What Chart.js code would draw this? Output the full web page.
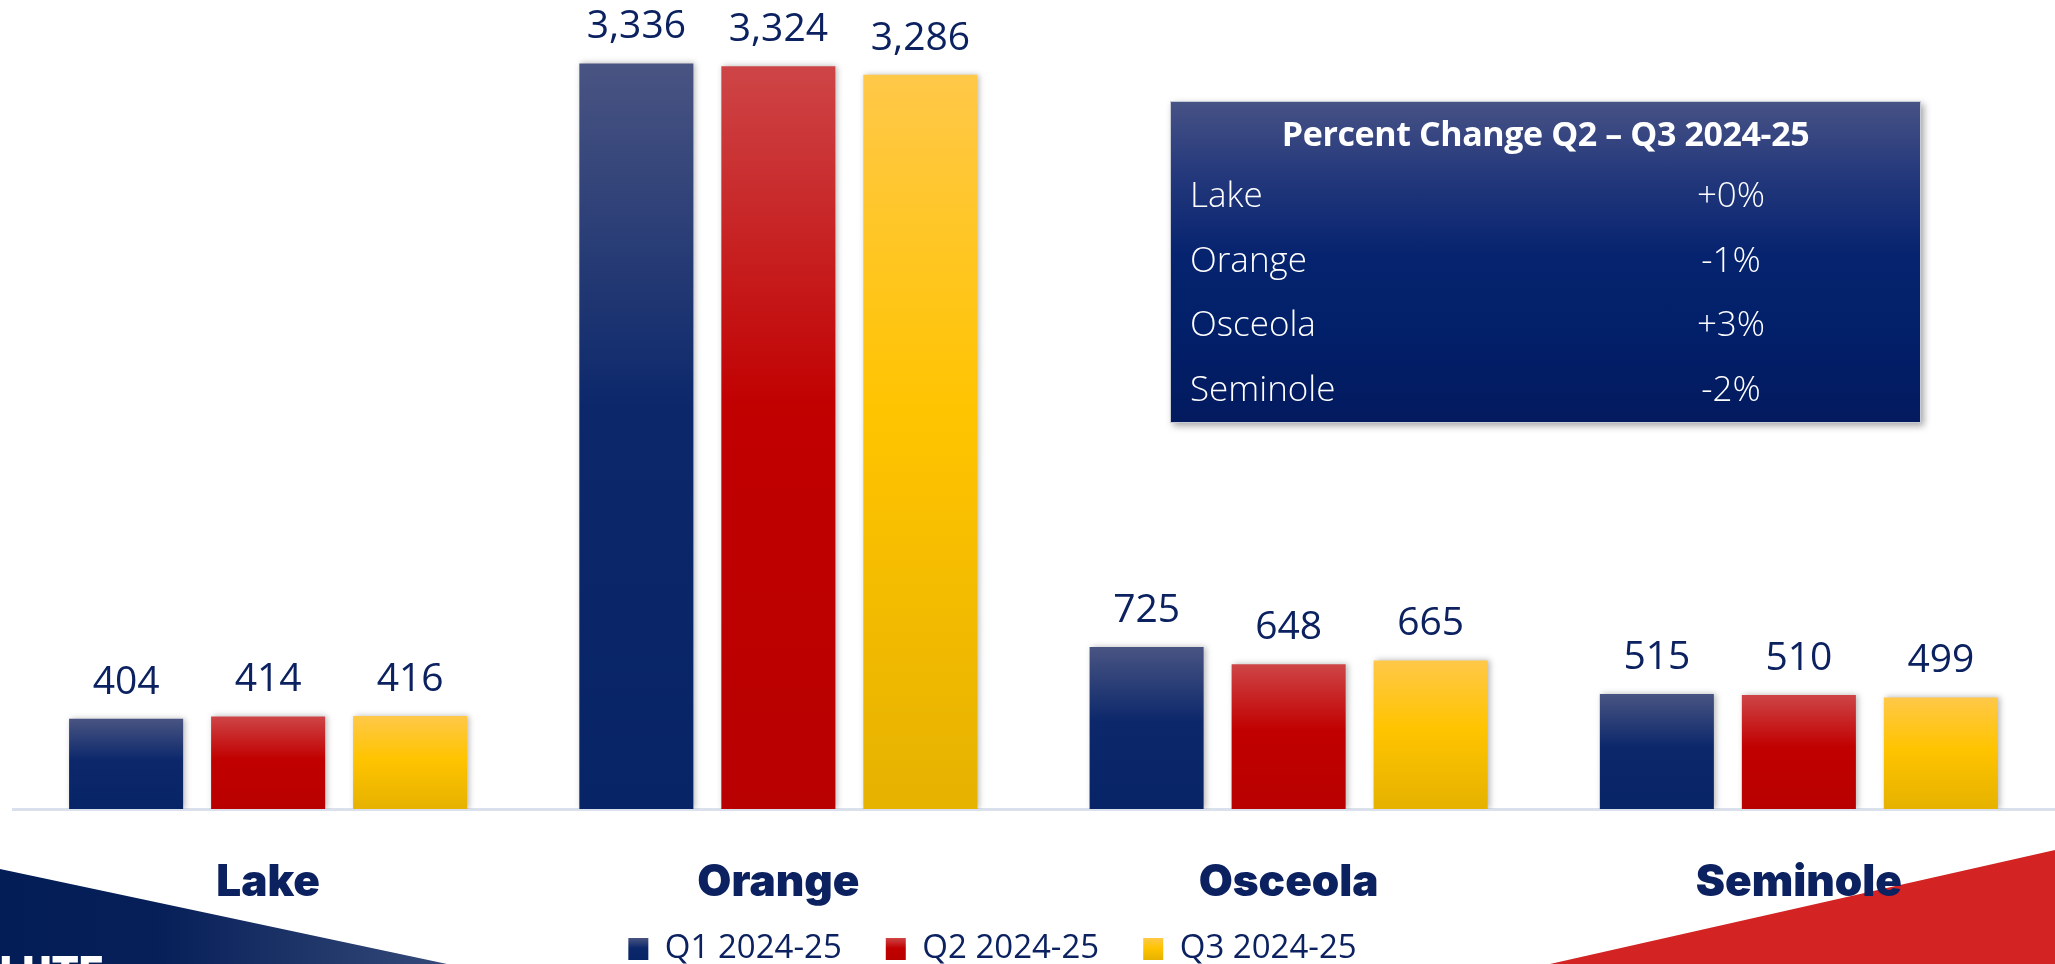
<!DOCTYPE html>
<html>
<head>
<meta charset="utf-8">
<script src="https://cdn.jsdelivr.net/npm/chart.js@4.4.1/dist/chart.umd.min.js"></script>
<style>
  html, body { margin: 0; padding: 0; background: #ffffff; overflow: hidden; }
  #wrap { position: relative; width: 2055px; height: 964px; }
  #chart { position: absolute; left: 0; top: 0; }
  #changeBox {
    position: absolute; left: 1170px; top: 101px; width: 751px; height: 322px;
    box-sizing: border-box;
    background: linear-gradient(180deg, #475285 0%, #25397c 22%, #06236f 48%, #021f69 72%, #031a5e 100%);
    border: 1px solid #c7cbd6;
    box-shadow: 3px 3px 7px rgba(0, 0, 0, 0.35);
    color: #ffffff;
    font-family: 'Open Sans', sans-serif;
  }
  #changeBox .title {
    position: absolute; left: 0; right: 0; top: 9px; line-height: 44px;
    text-align: center; font-weight: 700; font-size: 34px; letter-spacing: -0.4px;
  }
  #changeBox .row { position: absolute; left: 0; right: 0; height: 44px; line-height: 44px; font-size: 35px; font-weight: 300; }
  #changeBox .row .name { position: absolute; left: 19px; }
  #changeBox .row .pct { position: absolute; left: 490px; width: 140px; text-align: center; }
</style>
</head>
<body>
<div id="wrap">
  <canvas id="chart" width="2055" height="964"></canvas>
  <div id="changeBox"><div class="title">Percent Change Q2 – Q3 2024-25</div></div>
</div>
<script>
// Counties on the category axis
const categories = ['Lake', 'Orange', 'Osceola', 'Seminole'];
// Quarterly series
const seriesNames = ['Q1 2024-25', 'Q2 2024-25', 'Q3 2024-25'];
const q1Values = [404, 3336, 725, 515];
const q2Values = [414, 3324, 648, 510];
const q3Values = [416, 3286, 665, 499];
// Percent change Q2 -> Q3 shown in the summary box
const changeLabels = ['+0%', '-1%', '+3%', '-2%'];

// top / middle / bottom colours of each series' vertical gradient
const barStops = [
  ['#495482', '#0c286b', '#072466'],
  ['#ce4547', '#c10000', '#b90000'],
  ['#ffc848', '#ffc400', '#e6b200']
];
const navy = '#0b2160';
const BASELINE_Y = 809;   // where the plot area ends
const LEGEND_Y = 949;     // vertical centre of the legend row

// Summary box rows
const box = document.getElementById('changeBox');
categories.forEach((name, i) => {
  const row = document.createElement('div');
  row.className = 'row';
  row.style.top = (70 + i * 64.7) + 'px';
  row.innerHTML = '<span class="name"></span><span class="pct"></span>';
  row.querySelector('.name').textContent = name;
  row.querySelector('.pct').textContent = changeLabels[i];
  box.appendChild(row);
});

function verticalGradient(c, stops, top, bottom) {
  const g = c.createLinearGradient(0, top, 0, bottom);
  g.addColorStop(0, stops[0]);
  g.addColorStop(0.46, stops[1]);
  g.addColorStop(1, stops[2]);
  return g;
}

function barFill(ctx) {
  const stops = barStops[ctx.datasetIndex];
  const chart = ctx.chart;
  if (!chart.chartArea || ctx.raw == null) return stops[1];
  const y = chart.scales.y;
  return verticalGradient(chart.ctx, stops, y.getPixelForValue(ctx.raw), y.getPixelForValue(0));
}

// Corner shapes behind the chart
const cornerShapes = {
  id: 'cornerShapes',
  beforeDraw(chart) {
    const c = chart.ctx;
    const W = chart.width, H = chart.height;
    c.save();
    const g = c.createLinearGradient(0, 0, 447, 0);
    g.addColorStop(0, '#031d57');
    g.addColorStop(0.35, '#061f58');
    g.addColorStop(1, '#354a79');
    c.fillStyle = g;
    c.beginPath();
    c.moveTo(0, 869); c.lineTo(447, H); c.lineTo(0, H); c.closePath();
    c.fill();
    c.fillStyle = '#ffffff';
    c.font = '900 40px Inter, sans-serif';
    c.textBaseline = 'alphabetic';
    c.fillText('LUTE', 0, 985);
    c.fillStyle = '#d42323';
    c.beginPath();
    c.moveTo(W, 850); c.lineTo(W, H); c.lineTo(1550, H); c.closePath();
    c.fill();
    c.restore();
  }
};

// Soft drop shadow under the bars
const barShadow = {
  id: 'barShadow',
  beforeDatasetsDraw(chart) {
    const c = chart.ctx;
    c.save();
    c.shadowColor = 'rgba(0,0,0,0.28)';
    c.shadowBlur = 6;
    c.shadowOffsetX = 2;
    c.shadowOffsetY = 0;
  },
  afterDatasetsDraw(chart) {
    chart.ctx.restore();
  }
};

// Value labels above each bar
const valueLabels = {
  id: 'valueLabels',
  afterDatasetsDraw(chart) {
    const c = chart.ctx;
    c.save();
    c.fillStyle = navy;
    c.font = '400 39px "Open Sans", sans-serif';
    c.textAlign = 'center';
    c.textBaseline = 'alphabetic';
    chart.data.datasets.forEach((ds, i) => {
      chart.getDatasetMeta(i).data.forEach((bar, j) => {
        c.fillText(ds.data[j].toLocaleString('en-US'), bar.x, bar.y - 25);
      });
    });
    c.restore();
  }
};

// Legend sits a little left of centre, just above the bottom edge
const legendPlacement = {
  id: 'legendPlacement',
  afterLayout(chart) {
    const lg = chart.legend;
    if (!lg) return;
    const pad = lg.options.labels.padding;
    const itemH = Math.max(lg.options.labels.font.size, lg.options.labels.boxHeight);
    lg.top = LEGEND_Y - itemH / 2 - pad;
    lg.bottom = lg.top + itemH + 2 * pad;
    lg.height = lg.bottom - lg.top;
    lg.left -= 41;
    lg.right -= 41;
  }
};

const chart = new Chart(document.getElementById('chart'), {
  type: 'bar',
  data: {
    labels: categories,
    datasets: [
      { label: seriesNames[0], data: q1Values, backgroundColor: barFill },
      { label: seriesNames[1], data: q2Values, backgroundColor: barFill },
      { label: seriesNames[2], data: q3Values, backgroundColor: barFill }
    ]
  },
  options: {
    responsive: false,
    animation: false,
    devicePixelRatio: 1,
    categoryPercentage: 0.835,
    barPercentage: 0.803,
    layout: { padding: { left: 13, right: 1, top: 0, bottom: 0 } },
    scales: {
      x: {
        grid: { display: false, drawTicks: false },
        border: { display: true, color: '#dbe1ec', width: 3 },
        ticks: {
          padding: 47,
          color: navy,
          font: { family: 'Inter', size: 44, weight: '900' }
        }
      },
      y: { display: false, min: 0, max: 3620 }
    },
    plugins: {
      legend: {
        position: 'bottom',
        maxHeight: 55,
        labels: {
          boxWidth: 20,
          boxHeight: 22,
          padding: 44,
          color: navy,
          font: { family: 'Open Sans', size: 33, weight: '400' },
          generateLabels(chart) {
            const items = Chart.defaults.plugins.legend.labels.generateLabels(chart);
            items.forEach((item, i) => {
              item.fillStyle = verticalGradient(chart.ctx, barStops[i], LEGEND_Y - 11, LEGEND_Y + 11);
              item.lineWidth = 0;
            });
            return items;
          }
        }
      },
      tooltip: { enabled: false }
    }
  },
  plugins: [cornerShapes, barShadow, valueLabels, legendPlacement]
});

// Pull the plot area down so the baseline lands at BASELINE_Y
chart.options.layout.padding.bottom = chart.chartArea.bottom - BASELINE_Y;
chart.update();
</script>
</body>
</html>
